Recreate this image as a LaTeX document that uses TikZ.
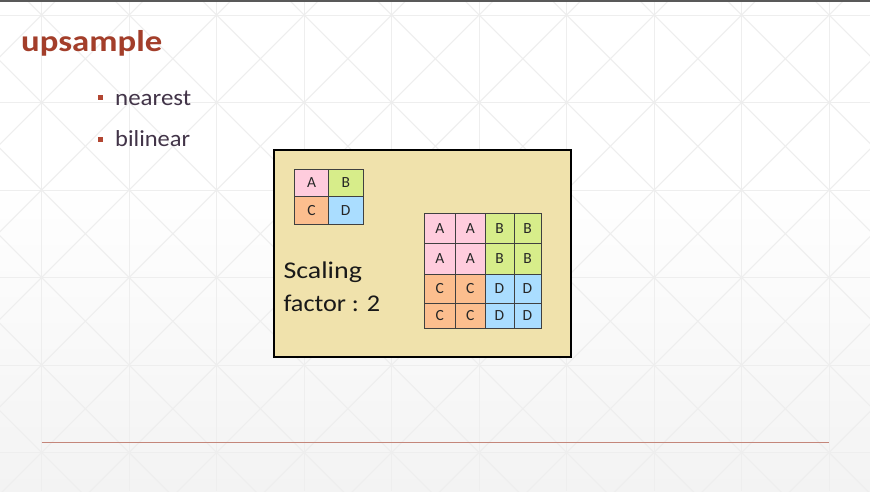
\documentclass[tikz,border=0pt]{standalone}
\usepackage{fontspec}
\usepackage{graphicx}
\setmainfont{Carlito}
\definecolor{titlered}{RGB}{163,62,42}
\definecolor{bulletred}{RGB}{178,70,50}
\definecolor{textgray}{RGB}{66,52,72}
\definecolor{bgg}{RGB}{243,243,243}
\definecolor{pattc}{RGB}{238,238,238}
\definecolor{khaki}{RGB}{240,226,172}
\definecolor{cpink}{RGB}{255,204,221}
\definecolor{cgreen}{RGB}{215,237,138}
\definecolor{corange}{RGB}{252,190,142}
\definecolor{cblue}{RGB}{170,221,255}
\definecolor{rulered}{RGB}{196,134,122}
\tikzset{
  patt/.style={draw=pattc,line width=1pt},
  cellletter/.style={inner sep=0pt,font=\fontsize{15.5}{15.5}\selectfont,text=black!85},
  gridline/.style={draw=black!75,line width=0.9pt},
  bulletsq/.style={fill=bulletred,minimum size=5pt,inner sep=0pt},
  bullettext/.style={anchor=base west,inner sep=0pt,text=textgray},
}
\begin{document}
\begin{tikzpicture}[x=1pt,y=-1pt]
\useasboundingbox (0,0) rectangle (870,491);
\fill[white] (0,0) rectangle (870,491);
\shade[top color=white,bottom color=bgg] (0,180) rectangle (870,491);
\begin{scope}
  \clip (0,0) rectangle (870,491);
  \foreach \k in {-1,...,10} \draw[patt] ({41.6+87.5*\k},0) -- ++(0,491);
  \foreach \k in {-1,...,6} \draw[patt] (0,{15+87.5*\k}) -- ++(870,0);
  \foreach \k in {-7,...,11} \draw[patt] ({26.6+87.5*\k-100},-100) -- ({26.6+87.5*\k+1000},1000);
  \foreach \k in {-2,...,16} \draw[patt] ({56.6+87.5*\k+100},-100) -- ({56.6+87.5*\k-1000},1000);
\end{scope}
\draw[black!65,line width=1.5pt] (0,0.75) -- (870,0.75);
\coordinate (ruleL) at (41.6,442.7);
\coordinate (ruleR) at (829,442.7);
\draw[rulered,line width=1.2pt] (ruleL) -- (ruleR);

\node[anchor=base west,inner sep=0pt,text=titlered] (title) at (21,51)
  {\resizebox{141pt}{\height}{\fontsize{30}{30}\selectfont\bfseries upsample}};
\node[bulletsq] (b1) at (100,97.5) {};
\node[bullettext] (t1) at (115,105)
  {\resizebox{76pt}{\height}{\fontsize{23}{23}\selectfont nearest}};
\node[bulletsq] (b2) at (100,139.5) {};
\node[bullettext] (t2) at (115,146)
  {\resizebox{75pt}{\height}{\fontsize{23}{23}\selectfont bilinear}};

\node[draw=black,fill=khaki,line width=1.8pt,minimum width=297pt,minimum height=207pt,inner sep=0pt] (panel) at (422.5,253.5) {};

\node[anchor=base west,inner sep=0pt,text=black!90] (s1) at (283.3,278)
  {\resizebox{78.5pt}{\height}{\fontsize{24}{24}\selectfont Scaling}};
\node[anchor=base west,inner sep=0pt,text=black!90] (s2) at (283.3,311)
  {\resizebox{96.7pt}{\height}{\fontsize{24}{24}\selectfont factor : 2}};

% small grid
\fill[cpink] (294.5,169) rectangle (328.5,196.5);
\fill[cgreen] (328.5,169) rectangle (363,196.5);
\fill[corange] (294.5,196.5) rectangle (328.5,224);
\fill[cblue] (328.5,196.5) rectangle (363,224);
\node[cellletter] (sa) at (311.5,182.75) {A};
\node[cellletter] (sb) at (345.75,182.75) {B};
\node[cellletter] (sc) at (311.5,210.25) {C};
\node[cellletter] (sd) at (345.75,210.25) {D};
\draw[gridline] (294.5,169) rectangle (363,224);
\draw[gridline] (328.5,169) -- (328.5,224);
\draw[gridline] (294.5,196.5) -- (363,196.5);

% large grid
\def\xa{424}\def\xb{455.5}\def\xc{485}\def\xd{514}\def\xe{541}
\def\ya{213}\def\yb{243.3}\def\yc{274}\def\yd{303.3}\def\ye{328}
\fill[cpink] (\xa,\ya) rectangle (\xc,\yc);
\fill[cgreen] (\xc,\ya) rectangle (\xe,\yc);
\fill[corange] (\xa,\yc) rectangle (\xc,\ye);
\fill[cblue] (\xc,\yc) rectangle (\xe,\ye);
\foreach \cx/\cy/\L/\n in {
  439.75/228.15/A/a11, 470.25/228.15/A/a12, 499.5/228.15/B/a13, 527.5/228.15/B/a14,
  439.75/258.65/A/a21, 470.25/258.65/A/a22, 499.5/258.65/B/a23, 527.5/258.65/B/a24,
  439.75/288.65/C/a31, 470.25/288.65/C/a32, 499.5/288.65/D/a33, 527.5/288.65/D/a34,
  439.75/315.65/C/a41, 470.25/315.65/C/a42, 499.5/315.65/D/a43, 527.5/315.65/D/a44}
  \node[cellletter] (\n) at (\cx,\cy) {\L};
\draw[gridline] (\xa,\ya) rectangle (\xe,\ye);
\foreach \x in {\xb,\xc,\xd} \draw[gridline] (\x,\ya) -- (\x,\ye);
\foreach \y in {\yb,\yc,\yd} \draw[gridline] (\xa,\y) -- (\xe,\y);
\end{tikzpicture}
\end{document}
